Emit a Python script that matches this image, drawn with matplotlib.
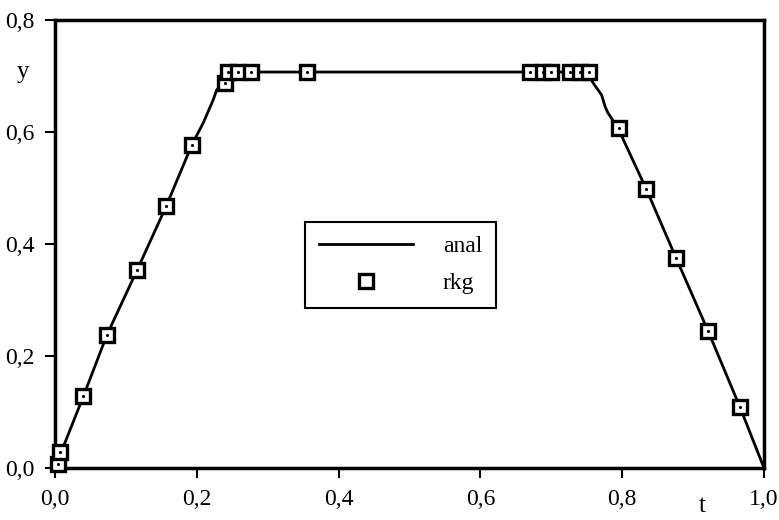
import matplotlib.pyplot as plt
from matplotlib.ticker import FuncFormatter

# analytical solution
anal_t = [0.0, 0.007, 0.014, 0.040, 0.073, 0.116, 0.157, 0.193, 0.209, 0.223,
          0.228, 0.240, 0.25, 0.75, 0.759, 0.771, 0.776, 0.780, 0.794, 0.834,
          0.876, 0.921, 0.966, 1.0]
anal_y = [0.0, 0.026, 0.045, 0.128, 0.237, 0.354, 0.468, 0.577, 0.616, 0.657,
          0.675, 0.690, 0.7071, 0.7071, 0.6875, 0.666, 0.645, 0.634, 0.607, 0.498,
          0.375, 0.245, 0.109, 0.0]

# rkg points
rkg_t = [0.004, 0.007, 0.040, 0.073, 0.116, 0.157, 0.193, 0.240, 0.244, 0.258,
         0.276, 0.355, 0.670, 0.688, 0.699, 0.726, 0.740, 0.753, 0.795, 0.834,
         0.876, 0.921, 0.966]
rkg_y = [0.008, 0.028, 0.128, 0.237, 0.354, 0.468, 0.577, 0.687, 0.7071, 0.7071,
         0.7071, 0.7071, 0.7071, 0.7071, 0.7071, 0.7071, 0.7071, 0.7071, 0.607,
         0.498, 0.375, 0.245, 0.109]

x_ticks = [0.0, 0.2, 0.4, 0.6, 0.8, 1.0]
y_ticks = [0.0, 0.2, 0.4, 0.6, 0.8]

plt.rcParams['font.family'] = ['Liberation Serif', 'DejaVu Serif']

fig = plt.figure(figsize=(7.79, 5.2), dpi=100)
ax = fig.add_axes([55 / 779, 1 - 468 / 520, 709 / 779, 448 / 520])

ax.plot(anal_t, anal_y, color='black', linewidth=2.0, label='anal')
ax.plot(rkg_t, rkg_y, linestyle='none', marker='s', markersize=9.5,
        markerfacecolor='white', markeredgecolor='black', markeredgewidth=2.4,
        label='rkg', clip_on=False, zorder=3)
ax.plot(rkg_t, rkg_y, linestyle='none', marker='.', markersize=2.5,
        color='black', clip_on=False, zorder=4)

ax.set_xlim(0, 1.0)
ax.set_ylim(0, 0.8)
ax.set_xticks(x_ticks)
ax.set_yticks(y_ticks)
comma = FuncFormatter(lambda v, p: f'{v:.1f}'.replace('.', ','))
ax.xaxis.set_major_formatter(comma)
ax.yaxis.set_major_formatter(comma)
ax.tick_params(direction='out', length=7, width=1.5, labelsize=17, pad=8)

for s in ax.spines.values():
    s.set_linewidth(2.5)

ax.text(-0.045, 0.707, 'y', fontsize=18, ha='center', va='center',
        transform=ax.get_yaxis_transform())
ax.text(0.913, -0.085, 't', fontsize=18, ha='center', va='center',
        transform=ax.get_xaxis_transform())

leg = ax.legend(loc='upper left', bbox_to_anchor=(0.353, 0.549),
                fontsize=17, frameon=True, fancybox=False,
                handlelength=4.0, handletextpad=1.25, borderpad=0.58,
                borderaxespad=0, labelspacing=0.65)
leg.get_frame().set_edgecolor('black')
leg.get_frame().set_linewidth(1.5)
leg.get_frame().set_alpha(1)

fig.savefig('out.png', dpi=100)
